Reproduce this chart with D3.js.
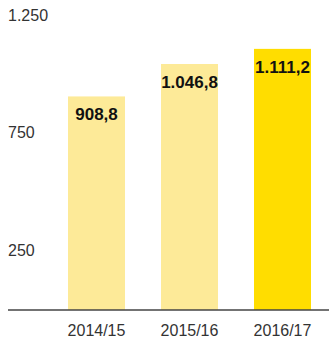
<!DOCTYPE html>
<html>
<head>
<meta charset="utf-8">
<script src="https://cdn.jsdelivr.net/npm/d3@7"></script>
<style>
  html, body { margin: 0; padding: 0; background: #fff; }
  svg { display: block; font-family: "Liberation Sans", Arial, sans-serif; }
</style>
</head>
<body>
<div id="chart"></div>
<script>
// Data
const categories = ["2014/15", "2015/16", "2016/17"];
const values = [908.8, 1046.8, 1111.2];
const barColors = ["#fdea98", "#fdea98", "#ffdd00"];
const yTicks = [250, 750, 1250];

const width = 329, height = 342;
const baseY = 310;

const svg = d3.select("#chart")
  .append("svg")
  .attr("width", width)
  .attr("height", height);

// German style number format
const de = d3.formatLocale({ decimal: ",", thousands: ".", grouping: [3], currency: ["", " €"] });
const fmtTick = de.format(",d");
const fmtVal = de.format(",.1f");

const x = d3.scaleBand()
  .domain(categories)
  .range([68, 311])
  .paddingInner(36 / 93)
  .paddingOuter(0);

const y = d3.scaleLinear()
  .domain([0, 1250])
  .range([baseY, baseY - 1250 * 0.235]);

// y tick labels (no axis line)
svg.selectAll(".ytick")
  .data(yTicks)
  .enter().append("text")
  .attr("class", "ytick")
  .attr("x", 8)
  .attr("y", d => y(d) - 1)
  .attr("dy", "0.35em")
  .attr("font-size", "16px")
  .attr("fill", "#333")
  .text(d => fmtTick(d));

// bars
svg.selectAll(".bar")
  .data(values)
  .enter().append("rect")
  .attr("class", "bar")
  .attr("x", (d, i) => x(categories[i]))
  .attr("y", d => y(d))
  .attr("width", x.bandwidth())
  .attr("height", d => baseY - y(d))
  .attr("fill", (d, i) => barColors[i]);

// value labels inside bars
svg.selectAll(".val")
  .data(values)
  .enter().append("text")
  .attr("class", "val")
  .attr("x", (d, i) => x(categories[i]) + x.bandwidth() / 2)
  .attr("y", d => y(d) + 18)
  .attr("dy", "0.35em")
  .attr("text-anchor", "middle")
  .attr("font-size", "17px")
  .attr("font-weight", "bold")
  .attr("fill", "#111")
  .text(d => fmtVal(d));

// baseline
svg.append("line")
  .attr("x1", 8)
  .attr("x2", width)
  .attr("y1", baseY)
  .attr("y2", baseY)
  .attr("stroke", "#444")
  .attr("stroke-width", 1.5);

// category labels
svg.selectAll(".cat")
  .data(categories)
  .enter().append("text")
  .attr("class", "cat")
  .attr("x", d => x(d) + x.bandwidth() / 2)
  .attr("y", 330)
  .attr("dy", "0.35em")
  .attr("text-anchor", "middle")
  .attr("font-size", "16px")
  .attr("fill", "#333")
  .text(d => d);
</script>
</body>
</html>
